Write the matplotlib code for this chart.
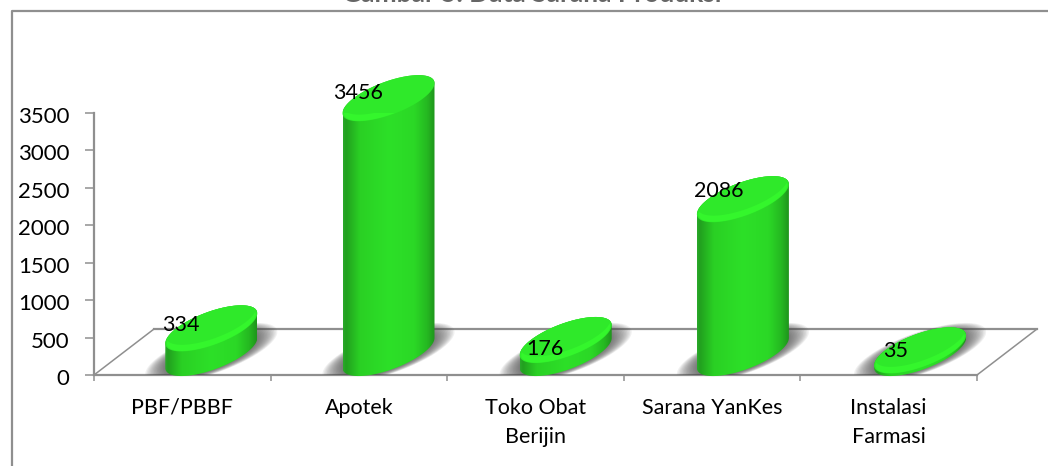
import numpy as np
import matplotlib
matplotlib.use("Agg")
import matplotlib.pyplot as plt
from matplotlib.colors import LinearSegmentedColormap
from matplotlib.lines import Line2D
from matplotlib.patches import Polygon, Rectangle
from matplotlib.transforms import ScaledTranslation

categories = ["PBF/PBBF", "Apotek", "Toko Obat\nBerijin", "Sarana YanKes", "Instalasi\nFarmasi"]
values = [334, 3456, 176, 2086, 35]
y_ticks = [0, 500, 1000, 1500, 2000, 2500, 3000, 3500]
# The title is almost entirely cropped in the reference; only letter bottoms show, so its wording is a guess.
title = "Gambar 5. Data Sarana Produksi"

W, H = 1048, 466
plt.rcParams["font.family"] = ["Lato", "DejaVu Sans"]
fig = plt.figure(figsize=(W / 100, H / 100), dpi=100)
fig.patch.set_facecolor("white")
L, R, T, B = 94, 977, 113, 375
ax = fig.add_axes([L / W, 1 - B / H, (R - L) / W, (B - T) / H])
ax.set_xlim(0, 5)
ax.set_ylim(0, 3500)
px = 5 / (R - L)
py = 3500 / (B - T)
GRAY = "#8f8f8f"
FONT = 15.5

# Style of the 3D look, in pixels
A, SHEAR, MINOR = 46.0, 15.0, 17.5
BASE_UP = 22.0
DEPTH_X, DEPTH_Y = 60, 46
VALUE_SCALE = 0.985
label_dx = [-1, -1, 9.5, 7, 7]
label_dy = [3, 5, -9, 8, -1]

t = np.linspace(0, 2 * np.pi, 241)


def ellipse(cx, cy, grow=0.0, up=0.0, minor_grow=None):
    a = A + grow
    s = SHEAR + grow * 0.3
    b = MINOR + (grow * 0.55 if minor_grow is None else minor_grow)
    x = cx + px * a * np.cos(t)
    y = cy + py * (s * np.cos(t) + b * np.sin(t) + up)
    return np.column_stack([x, y])


cyl_cmap = LinearSegmentedColormap.from_list(
    "cyl",
    [(0, "#2aa82a"), (0.03, "#22a01f"), (0.18, "#2ad024"), (0.5, "#2de028"),
     (0.78, "#2bd826"), (0.92, "#25b821"), (1, "#1f961c")],
)
ramp = np.linspace(0, 1, 128)[None, :]

# Floor of the 3D frame
floor_up = DEPTH_Y * py
floor_dx = DEPTH_X * px
ax.plot([0, floor_dx], [0, floor_up], color=GRAY, lw=1.1, clip_on=False, zorder=1)
ax.plot([floor_dx, 5 + floor_dx], [floor_up, floor_up], color=GRAY, lw=1.6, clip_on=False, zorder=1)
ax.plot([5 + floor_dx, 5], [floor_up, 0], color=GRAY, lw=1.1, clip_on=False, zorder=1)

shadow_clip = Rectangle((-0.5, 0), 6.5, 3500, transform=ax.transData)

for i, v in enumerate(values):
    cx = i + 0.5 + (29 + i * 0.6) * px
    cy0 = BASE_UP * py
    cy1 = cy0 + v * VALUE_SCALE

    # soft floor shadow, stretched along the long axis of the base
    for g in np.linspace(20, 1, 14):
        sh = Polygon(ellipse(cx, cy0, grow=g, minor_grow=g * 0.2), closed=True, fc="#484848",
                     ec="none", alpha=0.08, zorder=2)
        ax.add_patch(sh)
        sh.set_clip_path(shadow_clip)

    # cylinder wall with a horizontal shading
    top = ellipse(cx, cy1)
    base = ellipse(cx, cy0)
    upper = top[(t >= 0) & (t <= np.pi)]
    lower = base[(t >= np.pi) & (t <= 2 * np.pi)]
    wall = Polygon(np.vstack([upper, lower]), closed=True, fc="none", ec="none", zorder=3)
    ax.add_patch(wall)
    im = ax.imshow(ramp, cmap=cyl_cmap, aspect="auto", zorder=3, interpolation="bilinear",
                   extent=[cx - A * px, cx + A * px, cy0 - 30 * py, cy1 + 30 * py])
    im.set_clip_path(wall)
    im.set_clip_box(fig.bbox)

    # top face with a bright band along its front edge
    top_face = Polygon(top, closed=True, fc="#2fe92a", ec="none", clip_on=False, zorder=4)
    ax.add_patch(top_face)
    band = Polygon(ellipse(cx, cy1, grow=-1.5, up=-0.5), closed=True, fc="#34f62c", ec="none", zorder=4)
    ax.add_patch(band)
    band.set_clip_path(top_face)
    inner = Polygon(ellipse(cx, cy1, grow=-1, up=6.0), closed=True, fc="#2fe92a", ec="none", zorder=4)
    ax.add_patch(inner)
    inner.set_clip_path(top_face)

    ax.text(i + 0.5 + label_dx[i] * px, cy1 + label_dy[i] * py, str(v), ha="center", va="center",
            fontsize=FONT, color="black", zorder=6, clip_on=False)

ax.set_xlim(0, 5)
ax.set_ylim(0, 3500)

# Axes
for side in ("top", "right"):
    ax.spines[side].set_visible(False)
for side in ("left", "bottom"):
    ax.spines[side].set_color(GRAY)
    ax.spines[side].set_linewidth(1.6)
    ax.spines[side].set_zorder(1.5)
ax.set_yticks(y_ticks)
ax.tick_params(axis="y", length=6.5, width=1.1, color=GRAY, labelsize=16, pad=11, labelcolor="black")
shift = ScaledTranslation(0, -2 / 100, fig.dpi_scale_trans)
for lab in ax.get_yticklabels():
    lab.set_transform(lab.get_transform() + shift)
ax.set_xticks(np.arange(6))
ax.set_xticklabels([])
ax.tick_params(axis="x", which="major", length=4.5, width=1.1, color=GRAY)
ax.set_xticks(np.arange(5) + 0.5, minor=True)
ax.set_xticklabels(categories, minor=True, fontsize=FONT, linespacing=1.57, color="black")
ax.tick_params(axis="x", which="minor", length=0, pad=16.5)
ax.patch.set_visible(False)

# Outer chart frame, cropped at the right and bottom of the picture
fig.add_artist(Line2D([11.5 / W, 11.5 / W, 1], [0, 1 - 10.5 / H, 1 - 10.5 / H],
                      color=GRAY, lw=1.6, transform=fig.transFigure))

# Title, cropped by the top edge of the picture
fig.text(532 / W, 1 - 1.6 / H, title, ha="center", va="baseline", fontsize=19, fontweight="bold",
         color="#666666")

fig.savefig("out.png", dpi=100)
